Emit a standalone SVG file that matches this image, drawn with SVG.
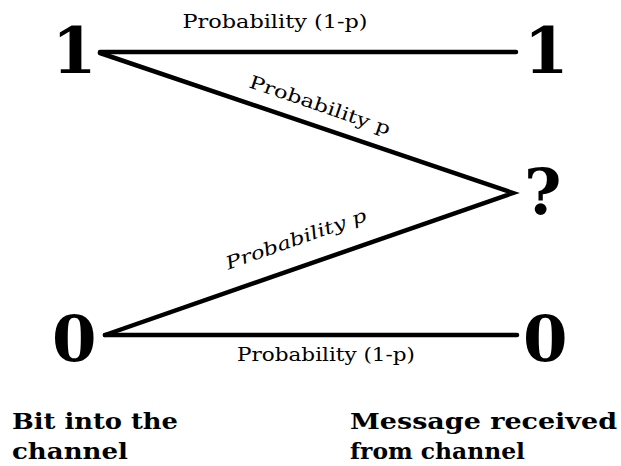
<svg xmlns="http://www.w3.org/2000/svg" width="621" height="466" viewBox="0 0 621 466">
  <style>
    .sym { font-family: "DejaVu Serif", "Liberation Serif", serif; font-weight: bold; font-size: 64px; fill: #000; }
    .cap { font-family: "DejaVu Serif", "Liberation Serif", serif; font-weight: bold; font-size: 23px; fill: #000; }
    .lbl { font-family: "DejaVu Serif", "Liberation Serif", serif; font-size: 18px; fill: #000; }
    .edge { stroke: #000; stroke-width: 4.5; stroke-linecap: round; stroke-linejoin: miter; fill: none; }
  </style>
  <rect width="621" height="466" fill="#fff"/>

  <g id="connectors">
    <line class="edge" x1="100" y1="52" x2="516" y2="52"/>
    <polyline class="edge" points="100,53 513,193 105,335"/>
    <line class="edge" x1="105" y1="335" x2="517" y2="335"/>
    <text class="lbl" x="275" y="28" text-anchor="middle" textLength="185" lengthAdjust="spacingAndGlyphs">Probability (1-p)</text>
    <text class="lbl" transform="translate(318,111) rotate(19)" text-anchor="middle" textLength="148" lengthAdjust="spacingAndGlyphs">Probability p</text>
    <text class="lbl" font-style="italic" transform="translate(298,245) rotate(-19.5)" text-anchor="middle" textLength="148" lengthAdjust="spacingAndGlyphs">Probability p</text>
    <text class="lbl" x="326" y="361" text-anchor="middle" textLength="178" lengthAdjust="spacingAndGlyphs">Probability (1-p)</text>
  </g>

  <g id="in1"><text class="sym" x="52" y="73">1</text></g>
  <g id="out1"><text class="sym" x="524" y="73">1</text></g>
  <g id="erasure"><text class="sym" x="524" y="214" font-size="60">?</text></g>
  <g id="in0"><text class="sym" x="52" y="361">0</text></g>
  <g id="out0"><text class="sym" x="523" y="361">0</text></g>

  <g id="input-caption">
    <text class="cap" x="12" y="429" textLength="166" lengthAdjust="spacingAndGlyphs">Bit into the</text>
    <text class="cap" x="12" y="459" textLength="116" lengthAdjust="spacingAndGlyphs">channel</text>
  </g>
  <g id="output-caption">
    <text class="cap" x="350" y="429" textLength="267" lengthAdjust="spacingAndGlyphs">Message received</text>
    <text class="cap" x="350" y="459" textLength="175" lengthAdjust="spacingAndGlyphs">from channel</text>
  </g>
</svg>
